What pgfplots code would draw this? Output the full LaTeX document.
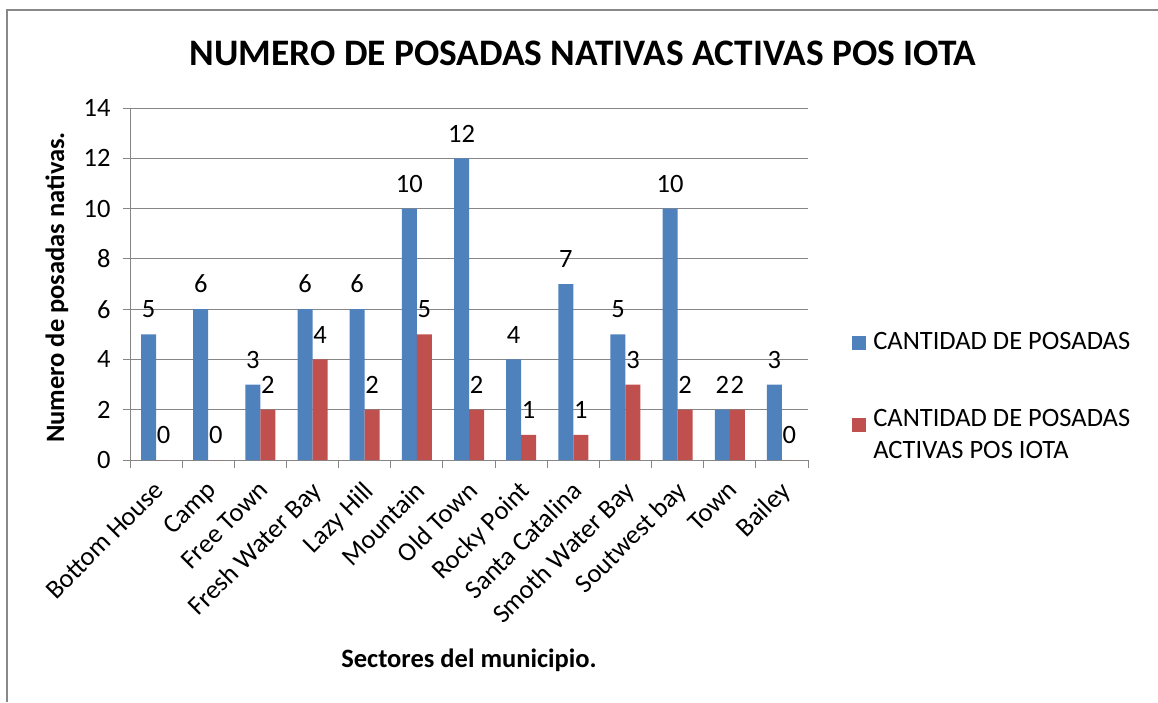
\documentclass[border=0pt]{standalone}
\usepackage{pgfplots}
\pgfplotsset{compat=1.18}
\usepackage{fontspec}
\setmainfont{Carlito}

\definecolor{barblue}{HTML}{4F81BD}
\definecolor{barred}{HTML}{C0504D}
\definecolor{axgray}{HTML}{868686}
\definecolor{framegray}{HTML}{888888}

% x: category index, total: cantidad de posadas, active: activas pos IOTA
\pgfplotstableread{
x total active
0  5  0
1  6  0
2  3  2
3  6  4
4  6  2
5  10 5
6  12 2
7  4  1
8  7  1
9  5  3
10 10 2
11 2  2
12 3  0
}\posadas

\newcommand\bodyfont{\fontsize{26.5}{32}\selectfont}

\begin{document}
\begin{tikzpicture}[x=1pt,y=1pt]
  \path[use as bounding box] (0pt,0pt) rectangle (1158pt,-702pt);
  \draw[framegray, line width=1.5pt] (7pt,-702pt) -- (7pt,-10pt) -- (1158pt,-10pt);
  \node[font=\fontsize{37.4}{44}\selectfont\bfseries] at (583pt,-53pt)
    {NUMERO DE POSADAS NATIVAS ACTIVAS POS IOTA};
  \begin{axis}[
      at={(130pt,-460pt)}, anchor=south west,
      scale only axis,
      width=678pt, height=352pt,
      xmin=-0.5, xmax=12.5,
      ymin=0, ymax=14,
      ytick={0,2,...,14},
      xtick={0,...,12},
      xticklabels={Bottom House,Camp,Free Town,Fresh Water Bay,Lazy Hill,Mountain,Old Town,Rocky Point,Santa Catalina,Smoth Water Bay,Soutwest bay,Town,Bailey},
      minor xtick={-0.5,0.5,...,12.5},
      major x tick style={draw=none},
      tick align=outside,
      major tick length=7pt,
      minor tick length=8pt,
      tick style={axgray, line width=1pt},
      axis x line*=bottom,
      axis y line*=left,
      axis line style={axgray, line width=1pt},
      ymajorgrids,
      grid style={axgray, line width=1pt},
      /pgf/number format/assume math mode=true,
      ticklabel style={font=\bodyfont},
      yticklabel style={xshift=-9pt},
      xticklabel style={xshift=-3pt, yshift=-11pt, rotate=45, anchor=north east, inner sep=1pt},
      ylabel={Numero de posadas nativas.},
      ylabel style={font=\bodyfont\bfseries, at={(axis description cs:-0.1077,0.49)}, anchor=center},
      xlabel={Sectores del municipio.},
      xlabel style={font=\bodyfont\bfseries, at={(axis description cs:0.5,-0.568)}, anchor=center},
      ybar=0pt,
      bar width=15pt,
      nodes near coords,
      nodes near coords style={font=\bodyfont, anchor=south, inner sep=3pt, yshift=13pt},
      legend style={draw=none, fill=none, font=\bodyfont,
        at={(axis description cs:1.065,0.37)}, anchor=north west,
        row sep=49pt, column sep=5pt, inner sep=0pt,
        cells={anchor=base west}},
      legend image code/.code={\fill[#1] (0pt,-1pt) rectangle (14pt,13pt);},
    ]
    \addplot[fill=barblue, draw=none] table[x=x, y=total] {\posadas};
    \addlegendentry{CANTIDAD DE POSADAS}
    \addplot[fill=barred, draw=none,
      legend image code/.code={\fill[barred] (0pt,-6pt) rectangle (14pt,8pt);}]
      table[x=x, y=active] {\posadas};
    \addlegendentry{\begin{tabular}[t]{@{}l@{}}CANTIDAD DE POSADAS\\ACTIVAS POS IOTA\end{tabular}}
  \end{axis}
\end{tikzpicture}
\end{document}
